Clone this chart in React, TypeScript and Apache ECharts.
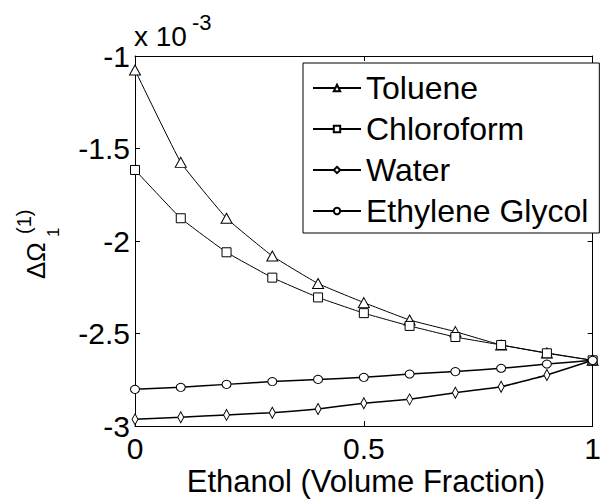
import React, { useEffect, useRef } from "react";
import * as echarts from "echarts";

// Ethanol volume fraction (x) and ΔΩ₁⁽¹⁾ values in units of 1e-3
const ethanolFraction = [0, 0.1, 0.2, 0.3, 0.4, 0.5, 0.6, 0.7, 0.8, 0.9, 1];
const toluene = [-1.076, -1.575, -1.877, -2.081, -2.23, -2.333, -2.427, -2.49, -2.562, -2.605, -2.645];
const chloroform = [-1.616, -1.877, -2.061, -2.198, -2.305, -2.39, -2.459, -2.519, -2.562, -2.607, -2.645];
const water = [-2.964, -2.953, -2.94, -2.928, -2.908, -2.877, -2.856, -2.82, -2.788, -2.724, -2.645];
const ethyleneGlycol = [-2.802, -2.791, -2.775, -2.76, -2.748, -2.737, -2.719, -2.706, -2.688, -2.665, -2.645];

const seriesNames = ["Toluene", "Chloroform", "Water", "Ethylene Glycol"];
const xTitle = "Ethanol (Volume Fraction)";

const FONT = "'Liberation Sans', Arial, Helvetica, sans-serif";

function pairs(ys: number[]) {
  return ethanolFraction.map((x, i) => [x, ys[i]]);
}

export default function App() {
  const ref = useRef<HTMLDivElement>(null);

  useEffect(() => {
    if (!ref.current) return;
    const chart = echarts.init(ref.current, null, { renderer: "svg" });

    const markerStyle = { color: "#fff", borderColor: "#000", borderWidth: 1 };
    const mk = (name: string, ys: number[], symbol: string, size: any, lw: number) => ({
      name,
      type: "line",
      data: pairs(ys),
      symbol,
      symbolSize: size,
      showSymbol: true,
      smooth: 0.1,
      lineStyle: { color: "#000", width: lw },
      itemStyle: markerStyle,
      xAxisIndex: 0,
      yAxisIndex: 0,
      z: 3,
    });

    const axisCommon = {
      type: "value",
      axisLine: { show: true, onZero: false, lineStyle: { color: "#000", width: 1 } },
      axisTick: { show: true, inside: true, length: 5, lineStyle: { color: "#000" } },
      splitLine: { show: false },
    };

    chart.setOption({
      animation: false,
      backgroundColor: "#fff",
      textStyle: { fontFamily: FONT },
      grid: { left: 135, top: 56, right: 4, bottom: 73, containLabel: false },
      xAxis: [
        {
          ...axisCommon,
          position: "bottom",
          min: 0,
          max: 1,
          interval: 0.5,
          axisLabel: { color: "#000", fontSize: 30, lineHeight: 22, fontFamily: FONT, margin: 11 },
        },
        {
          ...axisCommon,
          position: "top",
          min: 0,
          max: 1,
          interval: 0.5,
          axisLabel: { show: false },
        },
      ],
      yAxis: [
        {
          ...axisCommon,
          position: "left",
          min: -3,
          max: -1,
          interval: 0.5,
          axisLabel: { color: "#000", fontSize: 30, lineHeight: 22, fontFamily: FONT, margin: 5 },
        },
        {
          ...axisCommon,
          position: "right",
          min: -3,
          max: -1,
          interval: 0.5,
          axisLabel: { show: false },
        },
      ],
      legend: {
        orient: "vertical",
        left: 303,
        top: 63,
        backgroundColor: "#fff",
        borderColor: "#000",
        borderWidth: 1,
        borderRadius: 0,
        padding: [9, 11, 6, 9],
        itemGap: 9,
        itemWidth: 48,
        itemHeight: 8,
        textStyle: { color: "#000", fontSize: 32, fontFamily: FONT },
        data: seriesNames,
      },
      graphic: [
        {
          type: "text",
          x: 366,
          y: 481,
          style: {
            text: xTitle,
            fill: "#000",
            font: `31px ${FONT}`,
            lineHeight: 24,
            textAlign: "center",
            textVerticalAlign: "middle",
          },
        },
        {
          type: "text",
          x: 134,
          y: 36,
          style: {
            text: "x 10",
            fill: "#000",
            font: `28px ${FONT}`,
            textAlign: "left",
            textVerticalAlign: "middle",
          },
        },
        {
          type: "text",
          x: 192,
          y: 22,
          style: {
            text: "-3",
            fill: "#000",
            font: `22px ${FONT}`,
            textAlign: "left",
            textVerticalAlign: "middle",
          },
        },
        {
          type: "group",
          x: 45,
          y: 279,
          rotation: Math.PI / 2,
          children: [
            {
              type: "text",
              x: 0,
              y: -9,
              style: {
                text: "ΔΩ",
                fill: "#000",
                font: `26px ${FONT}`,
                textAlign: "left",
                textVerticalAlign: "middle",
              },
            },
            {
              type: "text",
              x: 42,
              y: 8,
              style: {
                text: "1",
                fill: "#000",
                font: `17px ${FONT}`,
                textAlign: "left",
                textVerticalAlign: "middle",
              },
            },
            {
              type: "text",
              x: 45,
              y: -21,
              style: {
                text: "(1)",
                fill: "#000",
                font: `20px ${FONT}`,
                textAlign: "left",
                textVerticalAlign: "middle",
              },
            },
          ],
        },
      ],
      series: [
        mk(seriesNames[0], toluene, "triangle", [11, 10], 1),
        mk(seriesNames[1], chloroform, "rect", 9, 1),
        mk(seriesNames[2], water, "diamond", [6, 11], 1.5),
        mk(seriesNames[3], ethyleneGlycol, "circle", [9, 8], 1.5),
      ],
    });

    return () => chart.dispose();
  }, []);

  return <div ref={ref} style={{ width: 604, height: 499, position: "absolute", left: 0, top: 0 }} />;
}
